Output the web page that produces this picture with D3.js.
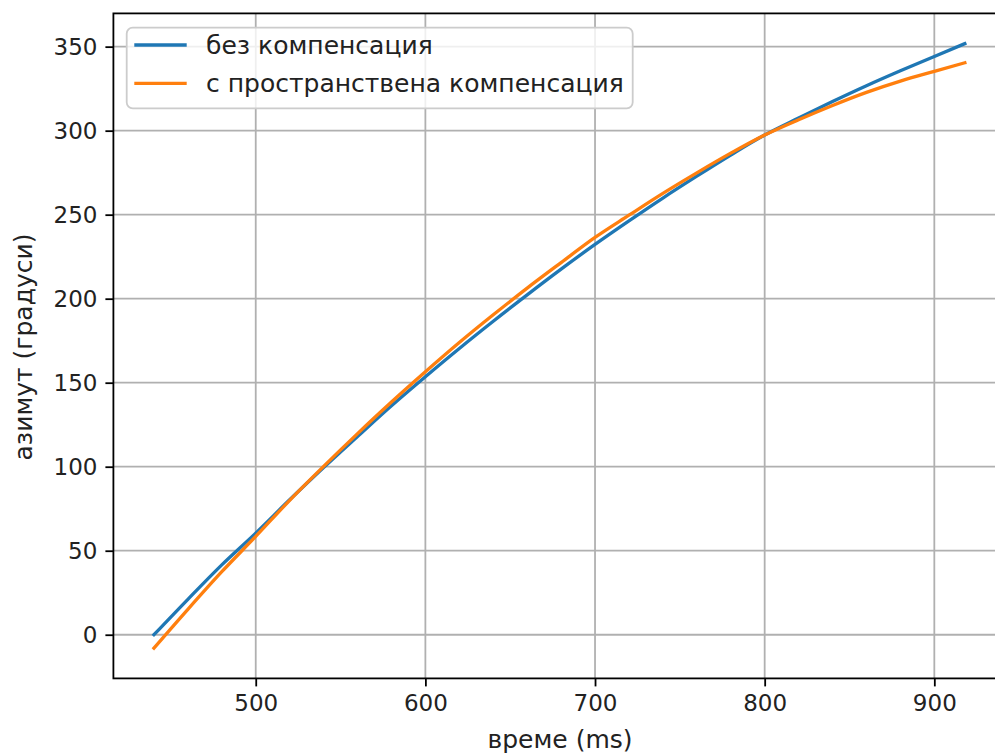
<!DOCTYPE html>
<html>
<head>
<meta charset="utf-8">
<script src="https://cdn.jsdelivr.net/npm/d3@7"></script>
<style>
  html, body { margin: 0; padding: 0; background: #fff; }
  svg { display: block; }
  text { font-family: "DejaVu Sans", sans-serif; }
</style>
</head>
<body>
<svg id="chart" width="995" height="754"></svg>
<script>
// Time samples (ms)
const times = [440, 460, 480, 500, 520, 540, 560, 580, 600, 620, 640, 660, 680,
               700, 720, 740, 760, 780, 800, 820, 840, 860, 880, 900, 918];

// Azimuth without compensation (degrees)
const azimuthRaw = [0, 21.1, 41.6, 60.5, 80.3, 99.5, 118, 136.3, 153.6, 170.4, 186.6, 202.3, 217.6,
                    232.3, 246.3, 259.9, 272.9, 285.5, 297.4, 307.5, 317.3, 326.7, 335.6, 344.2, 351.8];

// Azimuth with spatial compensation (degrees)
const azimuthComp = [-8, 15.1, 37.5, 58.5, 80, 100.2, 119.7, 138.5, 156.5, 173.9, 190.4, 206.3, 221.5,
                     236.5, 249.7, 262.7, 274.9, 286.6, 297.4, 306.5, 315, 322.8, 329.5, 335.3, 340.4];

const seriesNames = ["без компенсация", "с пространствена компенсация"];
const seriesColors = ["#1f77b4", "#ff7f0e"];

const xTicks = [500, 600, 700, 800, 900];
const yTicks = [0, 50, 100, 150, 200, 250, 300, 350];

const xLabel = "време (ms)";
const yLabel = "азимут (градуси)";

// Plot frame
const plotLeft = 113.4, plotRight = 1005.4, plotTop = 13.4, plotBottom = 678.4;
const tickFont = 23;
const labelFont = 25;
const FONT = "DejaVu Sans, sans-serif";

const svg = d3.select("#chart");

// Axis domains padded by 5% on each side
function padded(vals) {
  const lo = d3.min(vals), hi = d3.max(vals), m = (hi - lo) * 0.05;
  return [lo - m, hi + m];
}
const x = d3.scaleLinear().domain(padded(times)).range([plotLeft, plotRight]);
const y = d3.scaleLinear().domain(padded(azimuthRaw.concat(azimuthComp))).range([plotBottom, plotTop]);

// Grid
const grid = svg.append("g").attr("stroke", "#b0b0b0").attr("stroke-width", 1.8);
grid.selectAll("line.gx").data(xTicks).join("line")
  .attr("x1", d => x(d)).attr("x2", d => x(d))
  .attr("y1", plotTop).attr("y2", plotBottom);
grid.selectAll("line.gy").data(yTicks).join("line")
  .attr("x1", plotLeft).attr("x2", plotRight)
  .attr("y1", d => y(d)).attr("y2", d => y(d));

// Lines
const line = d3.line().x(d => x(d[0])).y(d => y(d[1])).curve(d3.curveMonotoneX);
const series = [azimuthRaw, azimuthComp];
series.forEach((vals, i) => {
  svg.append("path")
    .datum(times.map((t, j) => [t, vals[j]]))
    .attr("fill", "none")
    .attr("stroke", seriesColors[i])
    .attr("stroke-width", 3.3)
    .attr("stroke-linecap", "square")
    .attr("d", line);
});

// Axes
const xAxis = d3.axisBottom(x).tickValues(xTicks).tickSize(8).tickPadding(8).tickSizeOuter(0);
const yAxis = d3.axisLeft(y).tickValues(yTicks).tickSize(8).tickPadding(8).tickSizeOuter(0);

const gx = svg.append("g").attr("transform", `translate(0,${plotBottom})`).call(xAxis);
const gy = svg.append("g").attr("transform", `translate(${plotLeft},0)`).call(yAxis);
[gx, gy].forEach(g => {
  g.attr("font-family", FONT).attr("font-size", tickFont);
  g.select(".domain").remove();
  g.selectAll(".tick line").attr("stroke", "#000").attr("stroke-width", 1.8);
  g.selectAll(".tick text").attr("fill", "#222");
});

// Spines
svg.append("rect")
  .attr("x", plotLeft).attr("y", plotTop)
  .attr("width", plotRight - plotLeft).attr("height", plotBottom - plotTop)
  .attr("fill", "none").attr("stroke", "#000").attr("stroke-width", 1.8);

// Axis titles
svg.append("text")
  .attr("x", 560).attr("y", 748)
  .attr("text-anchor", "middle")
  .attr("font-family", FONT).attr("font-size", labelFont).attr("fill", "#222")
  .text(xLabel);
svg.append("text")
  .attr("transform", `translate(32,347) rotate(-90)`)
  .attr("text-anchor", "middle")
  .attr("font-family", FONT).attr("font-size", labelFont).attr("fill", "#222")
  .text(yLabel);

// Legend
const legend = svg.append("g");
legend.append("rect")
  .attr("x", 126.7).attr("y", 27.7).attr("width", 506).attr("height", 80.6)
  .attr("rx", 6).attr("ry", 6)
  .attr("fill", "#fff").attr("fill-opacity", 0.8)
  .attr("stroke", "#cccccc").attr("stroke-width", 1.8);
seriesNames.forEach((name, i) => {
  const ly = 45 + i * 38.3;
  legend.append("line")
    .attr("x1", 134.3).attr("x2", 186.7).attr("y1", ly).attr("y2", ly)
    .attr("stroke", seriesColors[i]).attr("stroke-width", 3.3);
  legend.append("text")
    .attr("x", 206).attr("y", ly).attr("dy", "0.36em")
    .attr("font-family", FONT).attr("font-size", labelFont).attr("fill", "#222")
    .text(name);
});
</script>
</body>
</html>
